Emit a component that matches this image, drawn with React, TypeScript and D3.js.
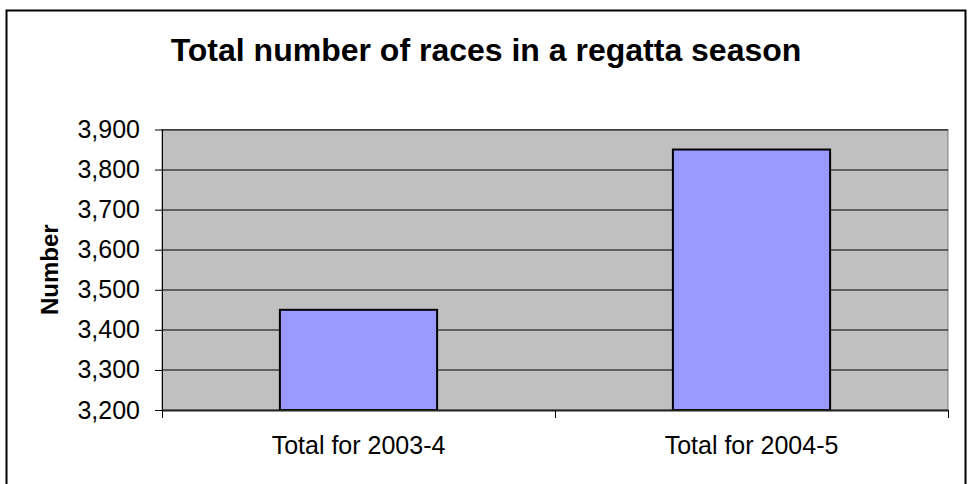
import React, { useEffect, useRef } from "react";
import * as d3 from "d3";

const categories = ["Total for 2003-4", "Total for 2004-5"];
const totals = [3450, 3850];
const yTicks = [3200, 3300, 3400, 3500, 3600, 3700, 3800, 3900];

const title = "Total number of races in a regatta season";
const yTitle = "Number";

const FONT = "Arial, 'Liberation Sans', Helvetica, sans-serif";

const App = () => {
  const ref = useRef<SVGSVGElement>(null);

  useEffect(() => {
    const svg = d3.select(ref.current);
    svg.selectAll("*").remove();

    const width = 972,
      height = 484;
    const margin = { top: 129.5, right: 24, bottom: 74, left: 162 };
    const innerW = width - margin.left - margin.right;
    const innerH = height - margin.top - margin.bottom;

    // chart frame (bottom edge runs off the picture)
    svg
      .append("rect")
      .attr("x", 6.5)
      .attr("y", 10.5)
      .attr("width", 959)
      .attr("height", 490)
      .attr("fill", "#fff")
      .attr("stroke", "#000")
      .attr("stroke-width", 2);

    svg
      .append("text")
      .attr("x", width / 2)
      .attr("y", 61)
      .attr("text-anchor", "middle")
      .style("font-family", FONT)
      .style("font-size", "32px")
      .style("font-weight", "bold")
      .text(title);

    const g = svg
      .append("g")
      .attr("transform", "translate(" + margin.left + "," + margin.top + ")");

    const x = d3
      .scaleBand<string>()
      .domain(categories)
      .range([0, innerW])
      .paddingInner(0.6)
      .paddingOuter(0.3);

    const y = d3
      .scaleLinear()
      .domain([yTicks[0], yTicks[yTicks.length - 1]])
      .range([innerH, 0]);

    // plot background
    g.append("rect")
      .attr("width", innerW)
      .attr("height", innerH)
      .attr("fill", "#c0c0c0")
      .attr("stroke", "#808080")
      .attr("stroke-width", 1);

    // gridlines
    g.selectAll(".grid")
      .data(yTicks.slice(1))
      .join("line")
      .attr("x1", 0)
      .attr("x2", innerW)
      .attr("y1", (d) => Math.round(y(d)) + 0.5)
      .attr("y2", (d) => Math.round(y(d)) + 0.5)
      .attr("stroke", "#000")
      .attr("stroke-width", 1);

    // bars
    g.selectAll(".bar")
      .data(totals)
      .join("rect")
      .attr("x", (d, i) => x(categories[i]) as number)
      .attr("y", (d) => y(d))
      .attr("width", x.bandwidth())
      .attr("height", (d) => innerH - y(d))
      .attr("fill", "#9999ff")
      .attr("stroke", "#000")
      .attr("stroke-width", 2);

    // y axis
    const yAxis = g
      .append("g")
      .call(
        d3
          .axisLeft(y)
          .tickValues(yTicks)
          .tickSize(7)
          .tickPadding(15)
          .tickFormat(d3.format(","))
      );
    yAxis.select(".domain").attr("stroke", "#000").attr("d", "M0.5,0V" + innerH);
    yAxis
      .selectAll("text")
      .style("font-family", FONT)
      .style("font-size", "25px")
      .attr("fill", "#000");

    // x axis
    const xAxis = g
      .append("g")
      .attr("transform", "translate(0," + innerH + ")")
      .call(d3.axisBottom(x).tickSize(0).tickPadding(26));
    xAxis
      .select(".domain")
      .attr("stroke", "#222")
      .attr("stroke-width", 2)
      .attr("d", "M0,0.5H" + innerW);
    xAxis
      .selectAll("text")
      .style("font-family", FONT)
      .style("font-size", "25px")
      .attr("fill", "#000");

    // category separator ticks
    const sepX = [0, innerW / 2, innerW];
    g.selectAll(".sep")
      .data(sepX)
      .join("line")
      .attr("x1", (d) => Math.round(d) + 0.5)
      .attr("x2", (d) => Math.round(d) + 0.5)
      .attr("y1", innerH)
      .attr("y2", innerH + 8)
      .attr("stroke", "#000");

    svg
      .append("text")
      .attr("transform", "translate(58," + (margin.top + innerH / 2) + ") rotate(-90)")
      .attr("text-anchor", "middle")
      .style("font-family", FONT)
      .style("font-size", "24px")
      .style("font-weight", "bold")
      .text(yTitle);
  }, []);

  return (
    <svg
      ref={ref}
      width={972}
      height={484}
      style={{ position: "absolute", left: 0, top: 0 }}
    />
  );
};

export default App;
